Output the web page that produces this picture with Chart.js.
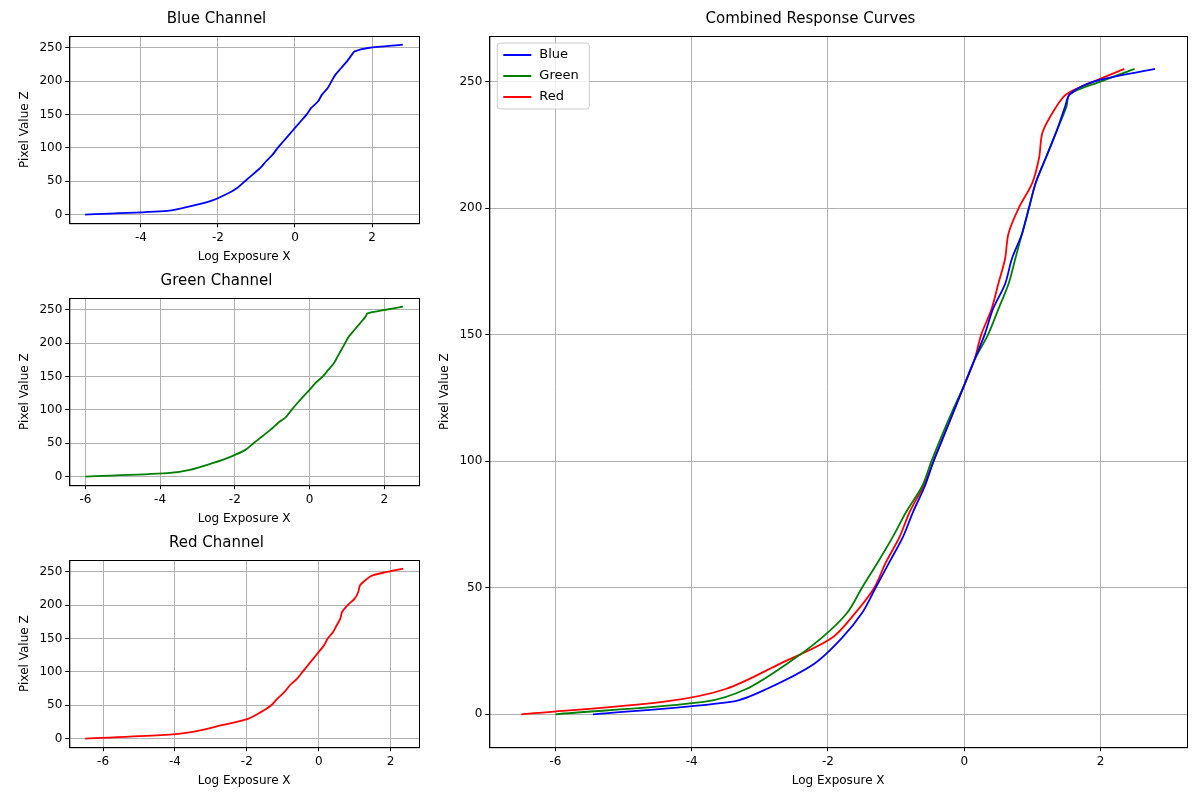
<!DOCTYPE html>
<html><head><meta charset="utf-8">
<script src="https://cdn.jsdelivr.net/npm/chart.js@4"></script>
<style>
body{margin:0;background:#fff;width:1200px;height:800px;position:relative;font-family:"DejaVu Sans",sans-serif}
.box{position:absolute}
</style></head><body>
<div class="box" style="left:0;top:6px;width:428px;height:262px"><canvas id="blueChart"></canvas></div>
<div class="box" style="left:0;top:268px;width:428px;height:262px"><canvas id="greenChart"></canvas></div>
<div class="box" style="left:0;top:530px;width:428px;height:262px"><canvas id="redChart"></canvas></div>
<div class="box" style="left:425px;top:6px;width:770px;height:786px"><canvas id="combinedChart"></canvas></div>
<script>
const zValues = [0,5,10,20,30,40,50,60,70,80,90,100,110,120,130,140,150,160,170,180,190,200,210,220,230,240,245,250,255];
const blueX  = [-5.45,-3.4,-2.9,-2.2,-1.8,-1.5,-1.3,-1.1,-0.9,-0.75,-0.58,-0.45,-0.3,-0.15,0.0,0.15,0.3,0.42,0.6,0.7,0.85,0.95,1.05,1.2,1.35,1.48,1.55,1.9,2.8];
const greenX = [-6.0,-3.8,-3.2,-2.6,-2.1,-1.72,-1.5,-1.27,-1.05,-0.85,-0.62,-0.48,-0.33,-0.17,0.0,0.15,0.35,0.5,0.65,0.75,0.85,0.95,1.05,1.2,1.35,1.5,1.55,2.0,2.5];
const redX   = [-6.5,-4.4,-3.5,-2.7,-1.95,-1.6,-1.32,-1.15,-0.95,-0.8,-0.6,-0.45,-0.3,-0.15,0.0,0.15,0.25,0.4,0.5,0.6,0.65,0.8,1.0,1.1,1.15,1.35,1.5,1.9,2.35];
const xTicksBlue = [-4,-2,0,2];
const xTicksGreen = [-6,-4,-2,0,2];
const xTicksRed = [-6,-4,-2,0,2];
const xTicksCombined = [-6,-4,-2,0,2];
const yTicksSmall = [0,50,100,150,200,250];
const yTicksCombined = [0,50,100,150,200,250];

Chart.defaults.font.family = '"DejaVu Sans", sans-serif';
Chart.defaults.color = '#000';

const pts = xs => xs.map((x, i) => ({x: x, y: zValues[i]}));

const frame = {
    id: 'frame',
    afterDraw(chart) {
        const ctx = chart.ctx, a = chart.chartArea;
        ctx.save();
        ctx.strokeStyle = '#000'; ctx.lineWidth = 1;
        ctx.strokeRect(a.left + 0.5, a.top + 0.5, a.right - a.left, a.bottom - a.top);
        ctx.restore();
    }
};

const legendInside = {
    id: 'legendInside',
    afterDraw(chart) {
        const ctx = chart.ctx, a = chart.chartArea;
        const x0 = a.left + 8, y0 = a.top + 7;
        ctx.save();
        ctx.fillStyle = 'rgba(255,255,255,0.8)';
        ctx.strokeStyle = '#ccc';
        ctx.lineWidth = 1;
        ctx.beginPath();
        ctx.roundRect(x0, y0, 92, 66, 3);
        ctx.fill(); ctx.stroke();
        ctx.font = '13px "DejaVu Sans", sans-serif';
        ctx.textBaseline = 'middle';
        chart.data.datasets.forEach((d, i) => {
            const yy = y0 + 12 + i * 21;
            ctx.strokeStyle = d.borderColor; ctx.lineWidth = 2;
            ctx.beginPath(); ctx.moveTo(x0 + 6, yy); ctx.lineTo(x0 + 34, yy); ctx.stroke();
            ctx.fillStyle = '#000';
            ctx.fillText(d.label, x0 + 42, yy);
        });
        ctx.restore();
    }
};

function makeChart(id, title, datasets, xMin, xMax, xTicks, yTicks, big) {
    return new Chart(document.getElementById(id).getContext('2d'), {
        type: 'scatter',
        data: {datasets: datasets.map(d => ({
            label: d.label, data: d.data, showLine: true, borderColor: d.color,
            backgroundColor: d.color, borderWidth: 1.8, pointRadius: 0, tension: 0.3
        }))},
        options: {
            responsive: true, maintainAspectRatio: false, animation: false,
            layout: {padding: {right: big ? 8 : 9, left: big ? 9 : 14}},
            plugins: {
                legend: {display: false}, tooltip: {enabled: false},
                title: {display: true, text: title, font: {size: 15, weight: 'normal'}, color: '#000', padding: {top: 4, bottom: 8}}
            },
            scales: {
                x: {
                    type: 'linear', min: xMin, max: xMax,
                    afterBuildTicks: s => { s.ticks = xTicks.map(v => ({value: v})); },
                    grid: {color: '#b0b0b0', drawTicks: true, tickLength: 4, tickColor: '#000'},
                    border: {color: '#000'},
                    ticks: {font: {size: 12}, maxRotation: 0},
                    title: {display: true, text: 'Log Exposure X', font: {size: 12}, padding: {top: 2}}
                },
                y: {
                    min: -13, max: 268,
                    afterBuildTicks: s => { s.ticks = yTicks.map(v => ({value: v})); },
                    grid: {color: '#b0b0b0', tickLength: 4, tickColor: '#000'},
                    border: {color: '#000'},
                    ticks: {font: {size: 12}},
                    title: {display: true, text: 'Pixel Value Z', font: {size: 12}}
                }
            }
        },
        plugins: big ? [frame, legendInside] : [frame]
    });
}

document.addEventListener('DOMContentLoaded', () => {
    makeChart('blueChart', 'Blue Channel', [{label: 'Blue', data: pts(blueX), color: '#0000ff'}], -5.86, 3.22, xTicksBlue, yTicksSmall, false);
    makeChart('greenChart', 'Green Channel', [{label: 'Green', data: pts(greenX), color: '#008000'}], -6.43, 2.93, xTicksGreen, yTicksSmall, false);
    makeChart('redChart', 'Red Channel', [{label: 'Red', data: pts(redX), color: '#ff0000'}], -6.94, 2.79, xTicksRed, yTicksSmall, false);
    makeChart('combinedChart', 'Combined Response Curves', [
        {label: 'Blue', data: pts(blueX), color: '#0000ff'},
        {label: 'Green', data: pts(greenX), color: '#008000'},
        {label: 'Red', data: pts(redX), color: '#ff0000'}
    ], -6.97, 3.27, xTicksCombined, yTicksCombined, true);
});
</script>
</body></html>
